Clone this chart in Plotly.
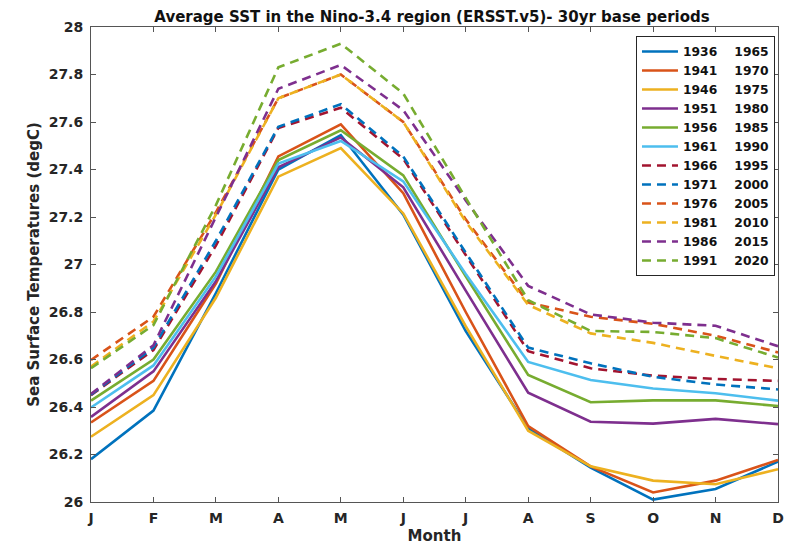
import plotly.graph_objects as go

months = ["J", "F", "M", "A", "M", "J", "J", "A", "S", "O", "N", "D"]
month_pos = list(range(1, 13))

gap = "\u00a0\u00a0\u00a0\u00a0"
periods = [f"1936{gap}1965", f"1941{gap}1970", f"1946{gap}1975", f"1951{gap}1980",
           f"1956{gap}1985", f"1961{gap}1990", f"1966{gap}1995", f"1971{gap}2000",
           f"1976{gap}2005", f"1981{gap}2010", f"1986{gap}2015", f"1991{gap}2020"]

sst_1936_1965 = [26.18, 26.385, 26.88, 27.40, 27.545, 27.21, 26.72, 26.31, 26.145, 26.01, 26.055, 26.17]
sst_1941_1970 = [26.335, 26.51, 26.92, 27.455, 27.59, 27.30, 26.80, 26.32, 26.15, 26.04, 26.09, 26.177]
sst_1946_1975 = [26.275, 26.45, 26.86, 27.37, 27.49, 27.215, 26.74, 26.30, 26.15, 26.09, 26.075, 26.138]
sst_1951_1980 = [26.358, 26.55, 26.93, 27.41, 27.535, 27.325, 26.89, 26.46, 26.338, 26.33, 26.35, 26.328]
sst_1956_1985 = [26.427, 26.60, 26.97, 27.44, 27.565, 27.375, 26.95, 26.535, 26.42, 26.428, 26.428, 26.404]
sst_1961_1990 = [26.398, 26.575, 26.95, 27.425, 27.52, 27.35, 26.96, 26.59, 26.514, 26.478, 26.458, 26.427]
sst_1966_1995 = [26.45, 26.64, 27.08, 27.575, 27.66, 27.445, 27.04, 26.635, 26.563, 26.532, 26.518, 26.51]
sst_1971_2000 = [26.452, 26.65, 27.10, 27.58, 27.675, 27.455, 27.05, 26.65, 26.584, 26.527, 26.495, 26.474]
sst_1976_2005 = [26.598, 26.78, 27.22, 27.70, 27.80, 27.60, 27.19, 26.84, 26.78, 26.75, 26.70, 26.63]
sst_1981_2010 = [26.57, 26.76, 27.21, 27.70, 27.80, 27.60, 27.18, 26.83, 26.71, 26.67, 26.615, 26.563]
sst_1986_2015 = [26.455, 26.66, 27.20, 27.74, 27.84, 27.65, 27.27, 26.91, 26.79, 26.755, 26.742, 26.656]
sst_1991_2020 = [26.563, 26.745, 27.25, 27.83, 27.93, 27.72, 27.28, 26.85, 26.72, 26.716, 26.69, 26.608]

series = [sst_1936_1965, sst_1941_1970, sst_1946_1975, sst_1951_1980, sst_1956_1985, sst_1961_1990,
          sst_1966_1995, sst_1971_2000, sst_1976_2005, sst_1981_2010, sst_1986_2015, sst_1991_2020]

colors = ["#0072BD", "#D95319", "#EDB120", "#7E2F8E", "#77AC30", "#4DBEEE",
          "#A2142F", "#0072BD", "#D95319", "#EDB120", "#7E2F8E", "#77AC30"]
dashes = ["solid"] * 6 + ["9px,6px"] * 6

y_ticks = [26 + 0.2 * i for i in range(11)]
y_ticktext = ["26", "26.2", "26.4", "26.6", "26.8", "27", "27.2", "27.4", "27.6", "27.8", "28"]

fig = go.Figure()
for name, vals, c, d in zip(periods, series, colors, dashes):
    fig.add_trace(go.Scatter(x=month_pos, y=vals, mode="lines", name=name,
                             line=dict(color=c, width=2.6, dash=d)))

tick_font = dict(family="DejaVu Sans", size=14, color="#262626", weight="bold")
fig.update_layout(
    width=790, height=545,
    margin=dict(l=91, r=12, t=27, b=43, autoexpand=False),
    paper_bgcolor="white", plot_bgcolor="white",
    title=dict(text="Average SST in the Nino-3.4 region (ERSST.v5)- 30yr base periods",
               x=(432 / 790), xref="container", xanchor="center",
               y=1 - 17 / 545, yref="container", yanchor="middle",
               font=dict(family="DejaVu Sans", size=15, color="#111111", weight="bold")),
    showlegend=True,
    legend=dict(x=0.9956, y=0.981, xanchor="right", yanchor="top",
                bgcolor="white", bordercolor="#262626", borderwidth=1,
                font=dict(family="DejaVu Sans", size=12.3, color="#111111", weight="bold"),
                tracegroupgap=0, itemwidth=36),
)
fig.update_xaxes(range=[1, 12], tickmode="array", tickvals=month_pos, ticktext=months,
                 ticks="inside", ticklen=5, tickcolor="#555555", automargin=False,
                 showline=True, linecolor="#555555", linewidth=1, mirror="ticks",
                 showgrid=False, zeroline=False, tickfont=tick_font, ticklabelstandoff=3,
                 title=dict(text="Month", standoff=8,
                            font=dict(family="DejaVu Sans", size=15, color="#262626", weight="bold")))
fig.update_yaxes(range=[26, 28], tickmode="array", tickvals=y_ticks, ticktext=y_ticktext,
                 ticks="inside", ticklen=5, tickcolor="#555555", automargin=False,
                 showline=True, linecolor="#555555", linewidth=1, mirror="ticks",
                 showgrid=False, zeroline=False, tickfont=tick_font, ticklabelstandoff=4,
                 title=dict(text="Sea Surface Temperatures (degC)", standoff=5,
                            font=dict(family="DejaVu Sans", size=15, color="#262626", weight="bold")))
fig.write_html("out.html", config={"displayModeBar": False},
               post_script="document.body.style.margin='0px';document.body.style.overflow='hidden';")
